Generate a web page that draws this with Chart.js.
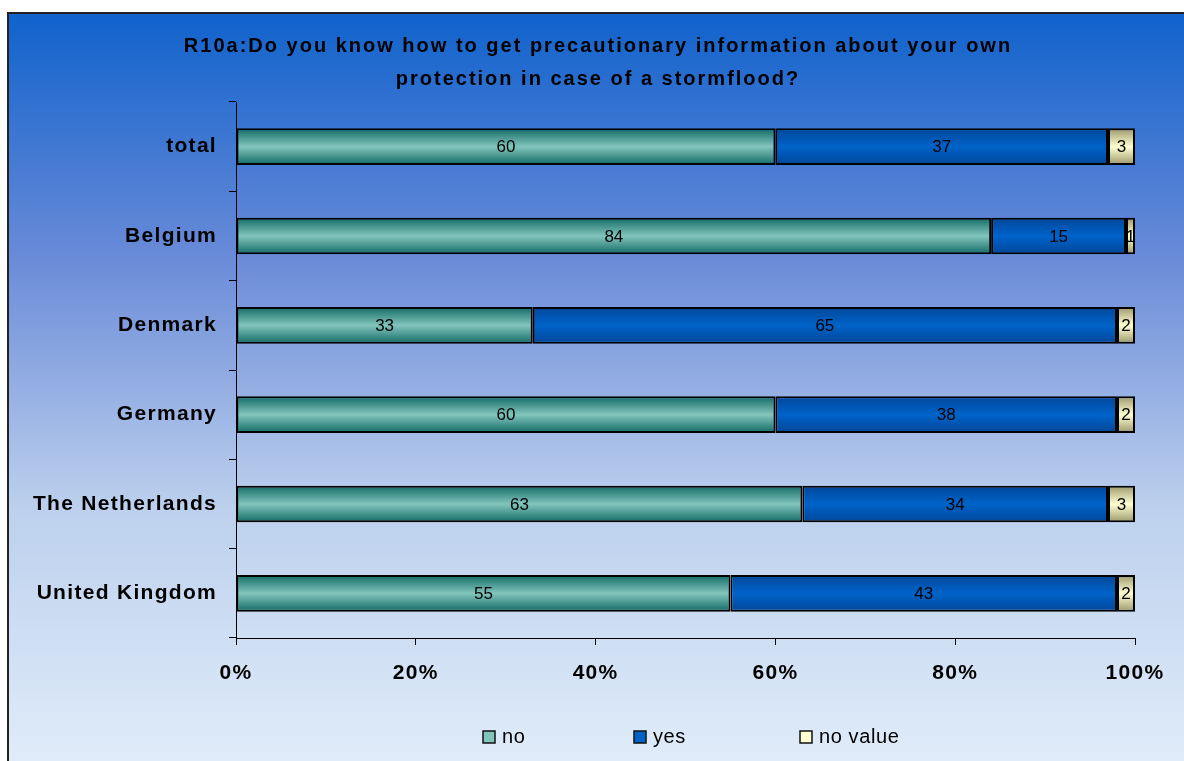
<!DOCTYPE html>
<html>
<head>
<meta charset="utf-8">
<script src="https://cdn.jsdelivr.net/npm/chart.js@4"></script>
<style>
    html, body { margin: 0; padding: 0; background: #fff; }
    #wrap { width: 1184px; height: 761px; position: relative; }
</style>
</head>
<body>
<div id="wrap"><canvas id="chart" width="1184" height="761"></canvas></div>
<script>
const categories = ['total', 'Belgium', 'Denmark', 'Germany', 'The Netherlands', 'United Kingdom'];
const noValues = [60, 84, 33, 60, 63, 55];
const yesValues = [37, 15, 65, 38, 34, 43];
const noValueValues = [3, 1, 2, 2, 3, 2];
const seriesNames = ['no', 'yes', 'no value'];
const xTicks = [0, 20, 40, 60, 80, 100];
const titleLines = [
    'R10a:Do you know how to get precautionary information about your own',
    'protection in case of a stormflood?'
];

const FONT = '"Liberation Sans", Arial, sans-serif';
const BAR_H = 36;

// edge colour / centre colour for each series
const palette = {
    no:      ['#136b66', '#82c5bd'],
    yes:     ['#00479a', '#0063c9'],
    novalue: ['#9d9a6c', '#ffffd2']
};

function barFill(stops) {
    return ctx => {
        const chart = ctx.chart;
        const y = chart.scales && chart.scales.y;
        if (!chart.chartArea || !y || ctx.type !== 'data') return stops[1];
        const cy = y.getPixelForValue(ctx.dataIndex);
        const g = chart.ctx.createLinearGradient(0, cy - BAR_H / 2, 0, cy + BAR_H / 2);
        g.addColorStop(0, stops[0]);
        g.addColorStop(0.5, stops[1]);
        g.addColorStop(1, stops[0]);
        return g;
    };
}

const framePlugin = {
    id: 'frame',
    beforeDraw(chart) {
        const c = chart.ctx;
        c.save();
        c.fillStyle = '#fff';
        c.fillRect(0, 0, chart.width, chart.height);
        const g = c.createLinearGradient(0, 12, 0, 761);
        g.addColorStop(0, '#0f62cc');
        g.addColorStop(0.33, '#6a8bd8');
        g.addColorStop(0.66, '#bcd0ed');
        g.addColorStop(1, '#e0ecf9');
        c.fillStyle = g;
        c.fillRect(8, 13, chart.width, chart.height);
        c.strokeStyle = '#222';
        c.lineWidth = 2;
        c.strokeRect(8, 13, chart.width + 10, chart.height + 10);

        // title
        c.fillStyle = '#000';
        c.font = 'bold 20px ' + FONT;
        c.letterSpacing = '2px';
        c.textAlign = 'center';
        c.textBaseline = 'middle';
        c.fillText(titleLines[0], 598, 46);
        c.fillText(titleLines[1], 598, 79);
        c.restore();
        chart.ctx.letterSpacing = '1.3px';
    },
    afterDatasetsDraw(chart) {
        const c = chart.ctx;
        c.save();
        c.letterSpacing = '0px';
        c.font = '17px ' + FONT;
        c.fillStyle = '#000';
        c.textAlign = 'center';
        c.textBaseline = 'middle';
        chart.data.datasets.forEach((ds, i) => {
            const meta = chart.getDatasetMeta(i);
            meta.data.forEach((bar, j) => {
                const cx = (bar.x + bar.base) / 2;
                c.fillText(String(ds.data[j]), cx, bar.y + 1);
            });
        });
        c.restore();
    },
    afterDraw(chart) {
        const c = chart.ctx;
        c.save();
        c.letterSpacing = '0.6px';
        c.font = '20px ' + FONT;
        c.textBaseline = 'middle';
        c.textAlign = 'left';
        const lefts = [483, 634, 800];
        const keys = ['no', 'yes', 'novalue'];
        chart.data.datasets.forEach((ds, i) => {
            const x = lefts[i], y = 737;
            c.fillStyle = palette[keys[i]][1];
            c.fillRect(x, y - 6, 12, 12);
            c.strokeStyle = '#111';
            c.lineWidth = 1.5;
            c.strokeRect(x, y - 6, 12, 12);
            c.fillStyle = '#000';
            c.fillText(ds.label, x + 19, y);
        });
        c.restore();
    }
};

new Chart(document.getElementById('chart'), {
    type: 'bar',
    data: {
        labels: categories,
        datasets: [
            { label: seriesNames[0], data: noValues, backgroundColor: barFill(palette.no) },
            { label: seriesNames[1], data: yesValues, backgroundColor: barFill(palette.yes) },
            { label: seriesNames[2], data: noValueValues, backgroundColor: barFill(palette.novalue) }
        ].map(d => Object.assign(d, {
            borderColor: '#000',
            borderWidth: 2,
            borderSkipped: false,
            categoryPercentage: 1,
            barPercentage: 0.41
        }))
    },
    options: {
        indexAxis: 'y',
        responsive: false,
        animation: false,
        layout: { padding: { left: 0, right: 49, top: 102, bottom: 62 } },
        plugins: {
            legend: { display: false },
            tooltip: { enabled: false }
        },
        scales: {
            x: {
                stacked: true,
                min: 0,
                max: 100,
                afterBuildTicks: scale => { scale.ticks = xTicks.map(v => ({ value: v })); },
                afterFit: scale => { scale.height = 61; },
                ticks: {
                    callback: v => v + '%',
                    color: '#000',
                    font: { family: FONT, size: 21, weight: 'bold' },
                    padding: 16,
                    maxRotation: 0
                },
                grid: { drawOnChartArea: false, tickLength: 7, color: '#000', lineWidth: 1 },
                border: { color: '#000', width: 1 }
            },
            y: {
                stacked: true,
                afterFit: scale => { scale.width = 236; },
                ticks: {
                    color: '#000',
                    font: { family: FONT, size: 21, weight: 'bold' },
                    padding: 12
                },
                grid: { offset: true, drawOnChartArea: false, tickLength: 7, color: '#000', lineWidth: 1 },
                border: { color: '#000', width: 1 }
            }
        }
    },
    plugins: [framePlugin]
});
</script>
</body>
</html>
